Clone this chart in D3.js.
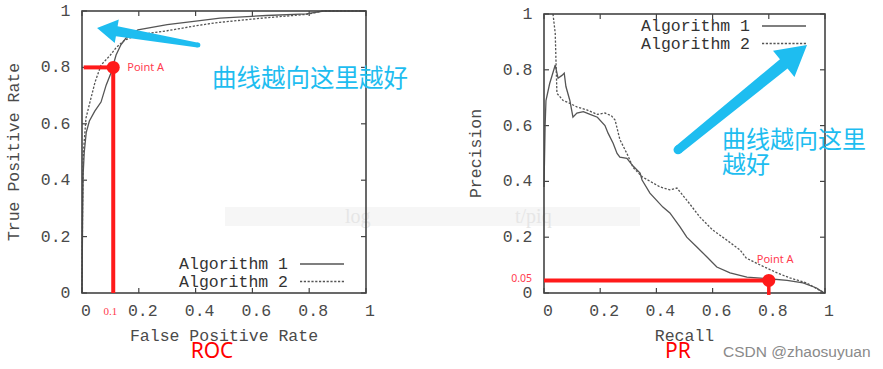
<!DOCTYPE html>
<html><head><meta charset="utf-8">
<script src="https://cdn.jsdelivr.net/npm/d3@7"></script>
<style>body{margin:0;background:#fff}svg{display:block}</style>
</head><body><svg id="c" width="883" height="369"></svg>
<script>
// ---------- data ----------
const ticks = [0, 0.2, 0.4, 0.6, 0.8, 1];
const tickLabels = ["0", "0.2", "0.4", "0.6", "0.8", "1"];
const seriesNames = ["Algorithm 1", "Algorithm 2"];
// ROC: [false positive rate, true positive rate]
const rocAlg1 = [[0,0],[0.002,0.25],[0.004,0.42],[0.008,0.5],[0.015,0.57],[0.026,0.61],[0.045,0.645],[0.067,0.677],[0.085,0.737],[0.102,0.78],[0.12,0.844],[0.137,0.88],[0.155,0.904],[0.197,0.933],[0.3,0.952],[0.415,0.966],[0.486,0.975],[0.65,0.984],[0.79,0.99],[0.85,1],[1,1]];
const rocAlg2 = [[0,0],[0.002,0.3],[0.005,0.5],[0.014,0.62],[0.028,0.677],[0.046,0.748],[0.067,0.808],[0.1,0.844],[0.12,0.87],[0.15,0.897],[0.197,0.915],[0.3,0.93],[0.415,0.95],[0.486,0.96],[0.637,0.975],[0.79,0.988],[0.85,1],[1,1]];
// PR: [recall, precision]
const prAlg1 = [[0.0,0.38],[0.004,0.6],[0.007,0.69],[0.02,0.75],[0.04,0.817],[0.05,0.77],[0.064,0.78],[0.072,0.788],[0.078,0.74],[0.092,0.69],[0.103,0.63],[0.117,0.645],[0.14,0.65],[0.164,0.64],[0.19,0.63],[0.217,0.6],[0.228,0.573],[0.246,0.537],[0.26,0.5],[0.27,0.487],[0.295,0.483],[0.317,0.455],[0.342,0.43],[0.349,0.405],[0.377,0.358],[0.423,0.308],[0.448,0.287],[0.484,0.237],[0.508,0.2],[0.544,0.165],[0.58,0.129],[0.615,0.093],[0.662,0.072],[0.722,0.057],[0.79,0.052],[0.865,0.045],[0.922,0.036],[0.97,0.018],[0.99,0.004],[1,0]];
const prAlg2 = [[0.032,1.0],[0.04,0.93],[0.043,0.82],[0.046,0.716],[0.068,0.69],[0.092,0.68],[0.117,0.667],[0.153,0.656],[0.19,0.64],[0.217,0.645],[0.24,0.635],[0.253,0.62],[0.27,0.55],[0.295,0.5],[0.317,0.45],[0.35,0.416],[0.413,0.38],[0.448,0.37],[0.473,0.376],[0.508,0.333],[0.555,0.272],[0.6,0.226],[0.65,0.19],[0.698,0.154],[0.72,0.125],[0.77,0.1],[0.83,0.072],[0.875,0.054],[0.935,0.036],[0.98,0.01],[1,0]];
// annotations (data units)
const rocPointA = [0.11, 0.8];
const prPointA = [0.8, 0.045];
const rocArrow = {tail:[0.408,0.879], tip:[0.053,0.94]};
const prArrow = {tail:[0.477,0.513], tip:[0.936,0.889]};
const hintText = "曲线越向这里越好";

// ---------- drawing ----------
const svg = d3.select("#c");
const mono = "'Liberation Mono','Courier New',monospace";
const monoSize = 16.5;
const axisColor = "#444", textColor = "#4a4a4a", lineColor = "#555";
const red = "#ff1a1a", blue = "#1ebdf0";

// watermark (under everything)
const wm = svg.append("g");
wm.append("rect").attr("x",225).attr("y",207).attr("width",415).attr("height",19).attr("fill","#f6f6f6");
wm.append("text").attr("x",345).attr("y",223).attr("font-family","'Liberation Serif',serif").attr("font-size",20).attr("fill","#e6e6e6").text("log");
wm.append("text").attr("x",515).attr("y",223).attr("font-family","'Liberation Serif',serif").attr("font-size",20).attr("fill","#e6e6e6").text("t/piq");

function panel(box, data, opts){
  const x = d3.scaleLinear().domain([0,1]).range([box.l, box.r]);
  const y = d3.scaleLinear().domain([0,1]).range([box.b, box.t]);
  const g = svg.append("g");
  const tk = 5;
  ticks.forEach(v=>{
    g.append("line").attr("x1",x(v)).attr("x2",x(v)).attr("y1",box.b).attr("y2",box.b-tk);
    g.append("line").attr("x1",x(v)).attr("x2",x(v)).attr("y1",box.t).attr("y2",box.t+tk);
    g.append("line").attr("y1",y(v)).attr("y2",y(v)).attr("x1",box.l).attr("x2",box.l+tk);
    g.append("line").attr("y1",y(v)).attr("y2",y(v)).attr("x1",box.r).attr("x2",box.r-tk);
  });
  g.selectAll("line").attr("stroke",axisColor).attr("stroke-width",1.2);
  ticks.forEach((v,i)=>{
    g.append("text").attr("x",x(v)+4).attr("y",box.b+23).attr("text-anchor","middle")
      .attr("font-family",mono).attr("font-size",monoSize).attr("fill",textColor).text(tickLabels[i]);
    g.append("text").attr("x",box.l-11.5).attr("y",y(v)+5).attr("text-anchor","end")
      .attr("font-family",mono).attr("font-size",monoSize).attr("fill",textColor).text(tickLabels[i]);
  });
  g.append("text").attr("x",(box.l+box.r)/2).attr("y",341).attr("text-anchor","middle")
    .attr("font-family",mono).attr("font-size",monoSize).attr("fill",textColor).text(opts.xTitle);
  g.append("text").attr("transform",`translate(${opts.yTitleX},${(box.t+box.b)/2}) rotate(-90)`)
    .attr("text-anchor","middle").attr("font-family",mono).attr("font-size",monoSize).attr("fill",textColor).text(opts.yTitle);
  const line = d3.line().x(d=>x(d[0])).y(d=>y(d[1]));
  data.forEach((s,i)=>{
    g.append("path").attr("d",line(s)).attr("fill","none").attr("stroke",lineColor)
      .attr("stroke-width",1.3).attr("stroke-dasharray", i===1?"2.2,1.6":null);
  });
  g.append("rect").attr("x",box.l).attr("y",box.t).attr("width",box.r-box.l).attr("height",box.b-box.t)
    .attr("fill","none").attr("stroke",axisColor).attr("stroke-width",1.6);
  seriesNames.forEach((n,i)=>{
    const ly = opts.legY + i*17.5;
    g.append("text").attr("x",opts.legX).attr("y",ly+5).attr("text-anchor","end")
      .attr("font-family",mono).attr("font-size",monoSize).attr("fill","#333").text(n);
    g.append("line").attr("x1",opts.legX+12).attr("x2",opts.legX+56).attr("y1",ly).attr("y2",ly)
      .attr("stroke",lineColor).attr("stroke-width",1.3).attr("stroke-dasharray", i===1?"2.2,1.6":null);
  });
  return {x,y,g};
}

const roc = panel({l:82,r:366,t:11,b:293},[rocAlg1,rocAlg2],
  {xTitle:"False Positive Rate", yTitle:"True Positive Rate", yTitleX:19, legX:288, legY:264});
const pr = panel({l:544,r:825,t:14,b:293},[prAlg1,prAlg2],
  {xTitle:"Recall", yTitle:"Precision", yTitleX:481, legX:750, legY:26});

function arrow(p, a, wTail, wHead, headLen, headHalf){
  const T=[p.x(a.tail[0]),p.y(a.tail[1])], P=[p.x(a.tip[0]),p.y(a.tip[1])];
  const dx=P[0]-T[0], dy=P[1]-T[1], L=Math.hypot(dx,dy), ux=dx/L, uy=dy/L, nx=-uy, ny=ux;
  const B=[P[0]-ux*headLen, P[1]-uy*headLen];
  const pts=[
    [T[0]+nx*wTail/2, T[1]+ny*wTail/2],
    [B[0]+nx*wHead/2, B[1]+ny*wHead/2],
    [B[0]+nx*headHalf, B[1]+ny*headHalf],
    P,
    [B[0]-nx*headHalf, B[1]-ny*headHalf],
    [B[0]-nx*wHead/2, B[1]-ny*wHead/2],
    [T[0]-nx*wTail/2, T[1]-ny*wTail/2]];
  svg.append("path").attr("d","M"+pts.map(q=>q.join(",")).join("L")+"Z").attr("fill",blue);
  svg.append("circle").attr("cx",T[0]).attr("cy",T[1]).attr("r",wTail/2).attr("fill",blue);
}
arrow(roc, rocArrow, 5, 10, 20, 12);
arrow(pr, prArrow, 9, 12, 30, 17);

const cjk = "'Noto Sans CJK SC','Microsoft YaHei',sans-serif";
svg.append("text").attr("x",212).attr("y",87).attr("font-family",cjk).attr("font-size",24.5).attr("fill",blue).text(hintText);
svg.append("text").attr("x",722).attr("y",148).attr("font-family",cjk).attr("font-size",24).attr("fill",blue).text(hintText.slice(0,6));
svg.append("text").attr("x",722).attr("y",173).attr("font-family",cjk).attr("font-size",24).attr("fill",blue).text(hintText.slice(6));

const sans = "'Noto Sans','Open Sans',sans-serif";
(function(){
  const {x,y}=roc;
  svg.append("line").attr("x1",x(rocPointA[0])).attr("x2",x(rocPointA[0])).attr("y1",y(0)).attr("y2",y(rocPointA[1])).attr("stroke",red).attr("stroke-width",4);
  svg.append("line").attr("x1",x(0.006)).attr("x2",x(rocPointA[0])).attr("y1",y(rocPointA[1])).attr("y2",y(rocPointA[1])).attr("stroke",red).attr("stroke-width",4);
  svg.append("circle").attr("cx",x(rocPointA[0])).attr("cy",y(rocPointA[1])).attr("r",6.5).attr("fill",red);
  svg.append("text").attr("x",x(rocPointA[0])+14).attr("y",y(rocPointA[1])+4).attr("font-family",sans).attr("font-size",11).attr("fill","#ff3b4e").text("Point A");
  svg.append("text").attr("x",x(0.1)).attr("y",315).attr("text-anchor","middle").attr("font-family","'Liberation Serif',serif").attr("font-size",11).attr("fill","#ff3b4e").text("0.1");
})();
(function(){
  const {x,y}=pr;
  svg.append("line").attr("x1",x(0)).attr("x2",x(prPointA[0])).attr("y1",y(prPointA[1])).attr("y2",y(prPointA[1])).attr("stroke",red).attr("stroke-width",4);
  svg.append("line").attr("x1",x(prPointA[0])).attr("x2",x(prPointA[0])).attr("y1",y(prPointA[1])).attr("y2",y(-0.007)).attr("stroke",red).attr("stroke-width",3.5);
  svg.append("circle").attr("cx",x(prPointA[0])).attr("cy",y(prPointA[1])).attr("r",6.5).attr("fill",red);
  svg.append("text").attr("x",x(prPointA[0])-12).attr("y",y(prPointA[1])-17).attr("font-family",sans).attr("font-size",11).attr("fill","#ff3b4e").text("Point A");
  svg.append("text").attr("x",x(0)-12).attr("y",y(0.05)+3).attr("text-anchor","end").attr("font-family",sans).attr("font-size",10.5).attr("fill","#ff3b4e").text("0.05");
})();

svg.append("text").attr("x",212).attr("y",358).attr("text-anchor","middle").attr("font-family",sans).attr("font-size",21).attr("fill","#ff0000").text("ROC");
svg.append("text").attr("x",678).attr("y",358).attr("text-anchor","middle").attr("font-family",sans).attr("font-size",21).attr("fill","#ff0000").text("PR");
svg.append("text").attr("x",723).attr("y",357).attr("font-family","'Liberation Sans',Arial,sans-serif").attr("font-size",15.5).attr("fill","#8a8a8a").text("CSDN @zhaosuyuan");
</script></body></html>
